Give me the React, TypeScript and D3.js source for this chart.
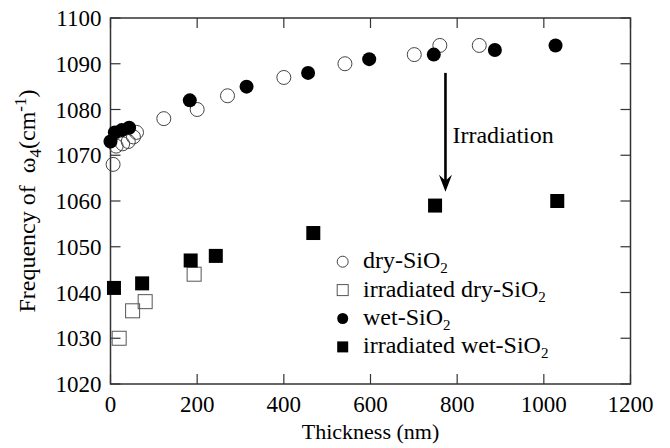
import React from 'react';
import * as d3 from 'd3';

// values: [thickness nm, frequency cm-1]
const dryPoints = [
  [6, 1068], [13, 1072], [28, 1072.5], [41, 1073], [53, 1074], [60, 1075],
  [123, 1078], [200, 1080], [270, 1083], [400, 1087], [541, 1090],
  [701, 1092], [760, 1094], [851, 1094],
];
const wetPoints = [
  [0, 1073], [10, 1075], [26, 1075.5], [43, 1076], [183, 1082], [314, 1085],
  [456, 1088], [597, 1091], [746, 1092], [887, 1093], [1027, 1094],
];
const irrDryPoints = [[20, 1030], [51, 1036], [80, 1038], [193, 1044]];
const irrWetPoints = [
  [8, 1041], [73, 1042], [185, 1047], [243, 1048], [468, 1053], [749, 1059], [1031, 1060],
];
const xTicks = [0, 200, 400, 600, 800, 1000, 1200];
const yTicks = [1020, 1030, 1040, 1050, 1060, 1070, 1080, 1090, 1100];
const legendItems = [
  { label: 'dry-SiO', shape: 'circle', filled: false },
  { label: 'irradiated dry-SiO', shape: 'square', filled: false },
  { label: 'wet-SiO', shape: 'circle', filled: true },
  { label: 'irradiated wet-SiO', shape: 'square', filled: true },
];
const arrowFrom = [773, 1088];
const arrowTo = [773, 1062];

const W = 670;
const H = 448;
const margin = { left: 110.5, right: 39.5, top: 18, bottom: 64 };
const font = "'Liberation Serif', 'DejaVu Serif', serif";
const axisColor = '#333';

export default function App() {
  const x = d3.scaleLinear().domain([0, 1200]).range([margin.left, W - margin.right]);
  const y = d3.scaleLinear().domain([1020, 1100]).range([H - margin.bottom, margin.top]);
  const x0 = x.range()[0], x1 = x.range()[1];
  const y0 = y.range()[0], y1 = y.range()[1];
  const tick = 10;
  const r = 7;
  const s = 14;

  const ax = x(arrowFrom[0]);
  const ayTop = y(arrowFrom[1]);
  const ayTip = y(arrowTo[1]);

  return (
    <svg width={W} height={H}
      style={{ position: 'absolute', left: 0, top: 0, background: '#fff', fontFamily: font }}>
      {/* frame */}
      <rect x={x0} y={y1} width={x1 - x0} height={y0 - y1} fill="none" stroke={axisColor} strokeWidth={1.5} />

      {/* x ticks, bottom and top */}
      {xTicks.map(t => (
        <g key={'x' + t}>
          <line x1={x(t)} x2={x(t)} y1={y0} y2={y0 - tick} stroke={axisColor} strokeWidth={1.2} />
          <line x1={x(t)} x2={x(t)} y1={y1} y2={y1 + tick} stroke={axisColor} strokeWidth={1.2} />
          <text x={x(t)} y={y0 + 28} textAnchor="middle" fontSize={23}>{t}</text>
        </g>
      ))}

      {/* y ticks, left and right */}
      {yTicks.map(t => (
        <g key={'y' + t}>
          <line x1={x0} x2={x0 + tick} y1={y(t)} y2={y(t)} stroke={axisColor} strokeWidth={1.2} />
          <line x1={x1} x2={x1 - tick} y1={y(t)} y2={y(t)} stroke={axisColor} strokeWidth={1.2} />
          <text x={x0 - 9} y={y(t) + 8} textAnchor="end" fontSize={23}>{t}</text>
        </g>
      ))}

      {/* axis titles */}
      <text x={(x0 + x1) / 2} y={H - 9} textAnchor="middle" fontSize={22}>Thickness (nm)</text>
      <text transform={`translate(35,${(y0 + y1) / 2}) rotate(-90)`} textAnchor="middle" fontSize={24}>
        Frequency of {'\u00a0'}ω<tspan dy={6} fontSize={17}>4</tspan>
        <tspan dy={-6}>(cm</tspan><tspan dy={-9} fontSize={17}>-1</tspan><tspan dy={9}>)</tspan>
      </text>

      {/* open markers first */}
      {dryPoints.map((d, i) => (
        <circle key={'d' + i} cx={x(d[0])} cy={y(d[1])} r={r} fill="none" stroke="#444" strokeWidth={1} />
      ))}
      {irrDryPoints.map((d, i) => (
        <rect key={'id' + i} x={x(d[0]) - s / 2} y={y(d[1]) - s / 2} width={s} height={s}
          fill="none" stroke="#555" strokeWidth={1} />
      ))}
      {wetPoints.map((d, i) => (
        <circle key={'w' + i} cx={x(d[0])} cy={y(d[1])} r={r} fill="#000" />
      ))}
      {irrWetPoints.map((d, i) => (
        <rect key={'iw' + i} x={x(d[0]) - s / 2} y={y(d[1]) - s / 2} width={s} height={s} fill="#000" />
      ))}

      {/* irradiation arrow */}
      <line x1={ax} x2={ax} y1={ayTop} y2={ayTip - 8} stroke="#000" strokeWidth={2.6} />
      <path d={`M${ax},${ayTip} L${ax - 6.5},${ayTip - 17} L${ax},${ayTip - 11} L${ax + 6.5},${ayTip - 17} Z`} fill="#000" />
      <text x={ax + 7} y={ayTop + 70} fontSize={24}>Irradiation</text>

      {/* legend */}
      {legendItems.map((it, i) => {
        const cy = 261.7 + i * 28.4;
        const cx = 342.7;
        return (
          <g key={'l' + i}>
            {it.shape === 'circle'
              ? <circle cx={cx} cy={cy} r={5.5} fill={it.filled ? '#000' : 'none'} stroke={it.filled ? 'none' : '#444'} strokeWidth={1} />
              : <rect x={cx - 5.5} y={cy - 5.5} width={11} height={11} fill={it.filled ? '#000' : 'none'} stroke={it.filled ? 'none' : '#555'} strokeWidth={1} />}
            <text x={363} y={cy + 6.5} fontSize={24}>
              {it.label}<tspan dy={5} fontSize={15}>2</tspan>
            </text>
          </g>
        );
      })}
    </svg>
  );
}
